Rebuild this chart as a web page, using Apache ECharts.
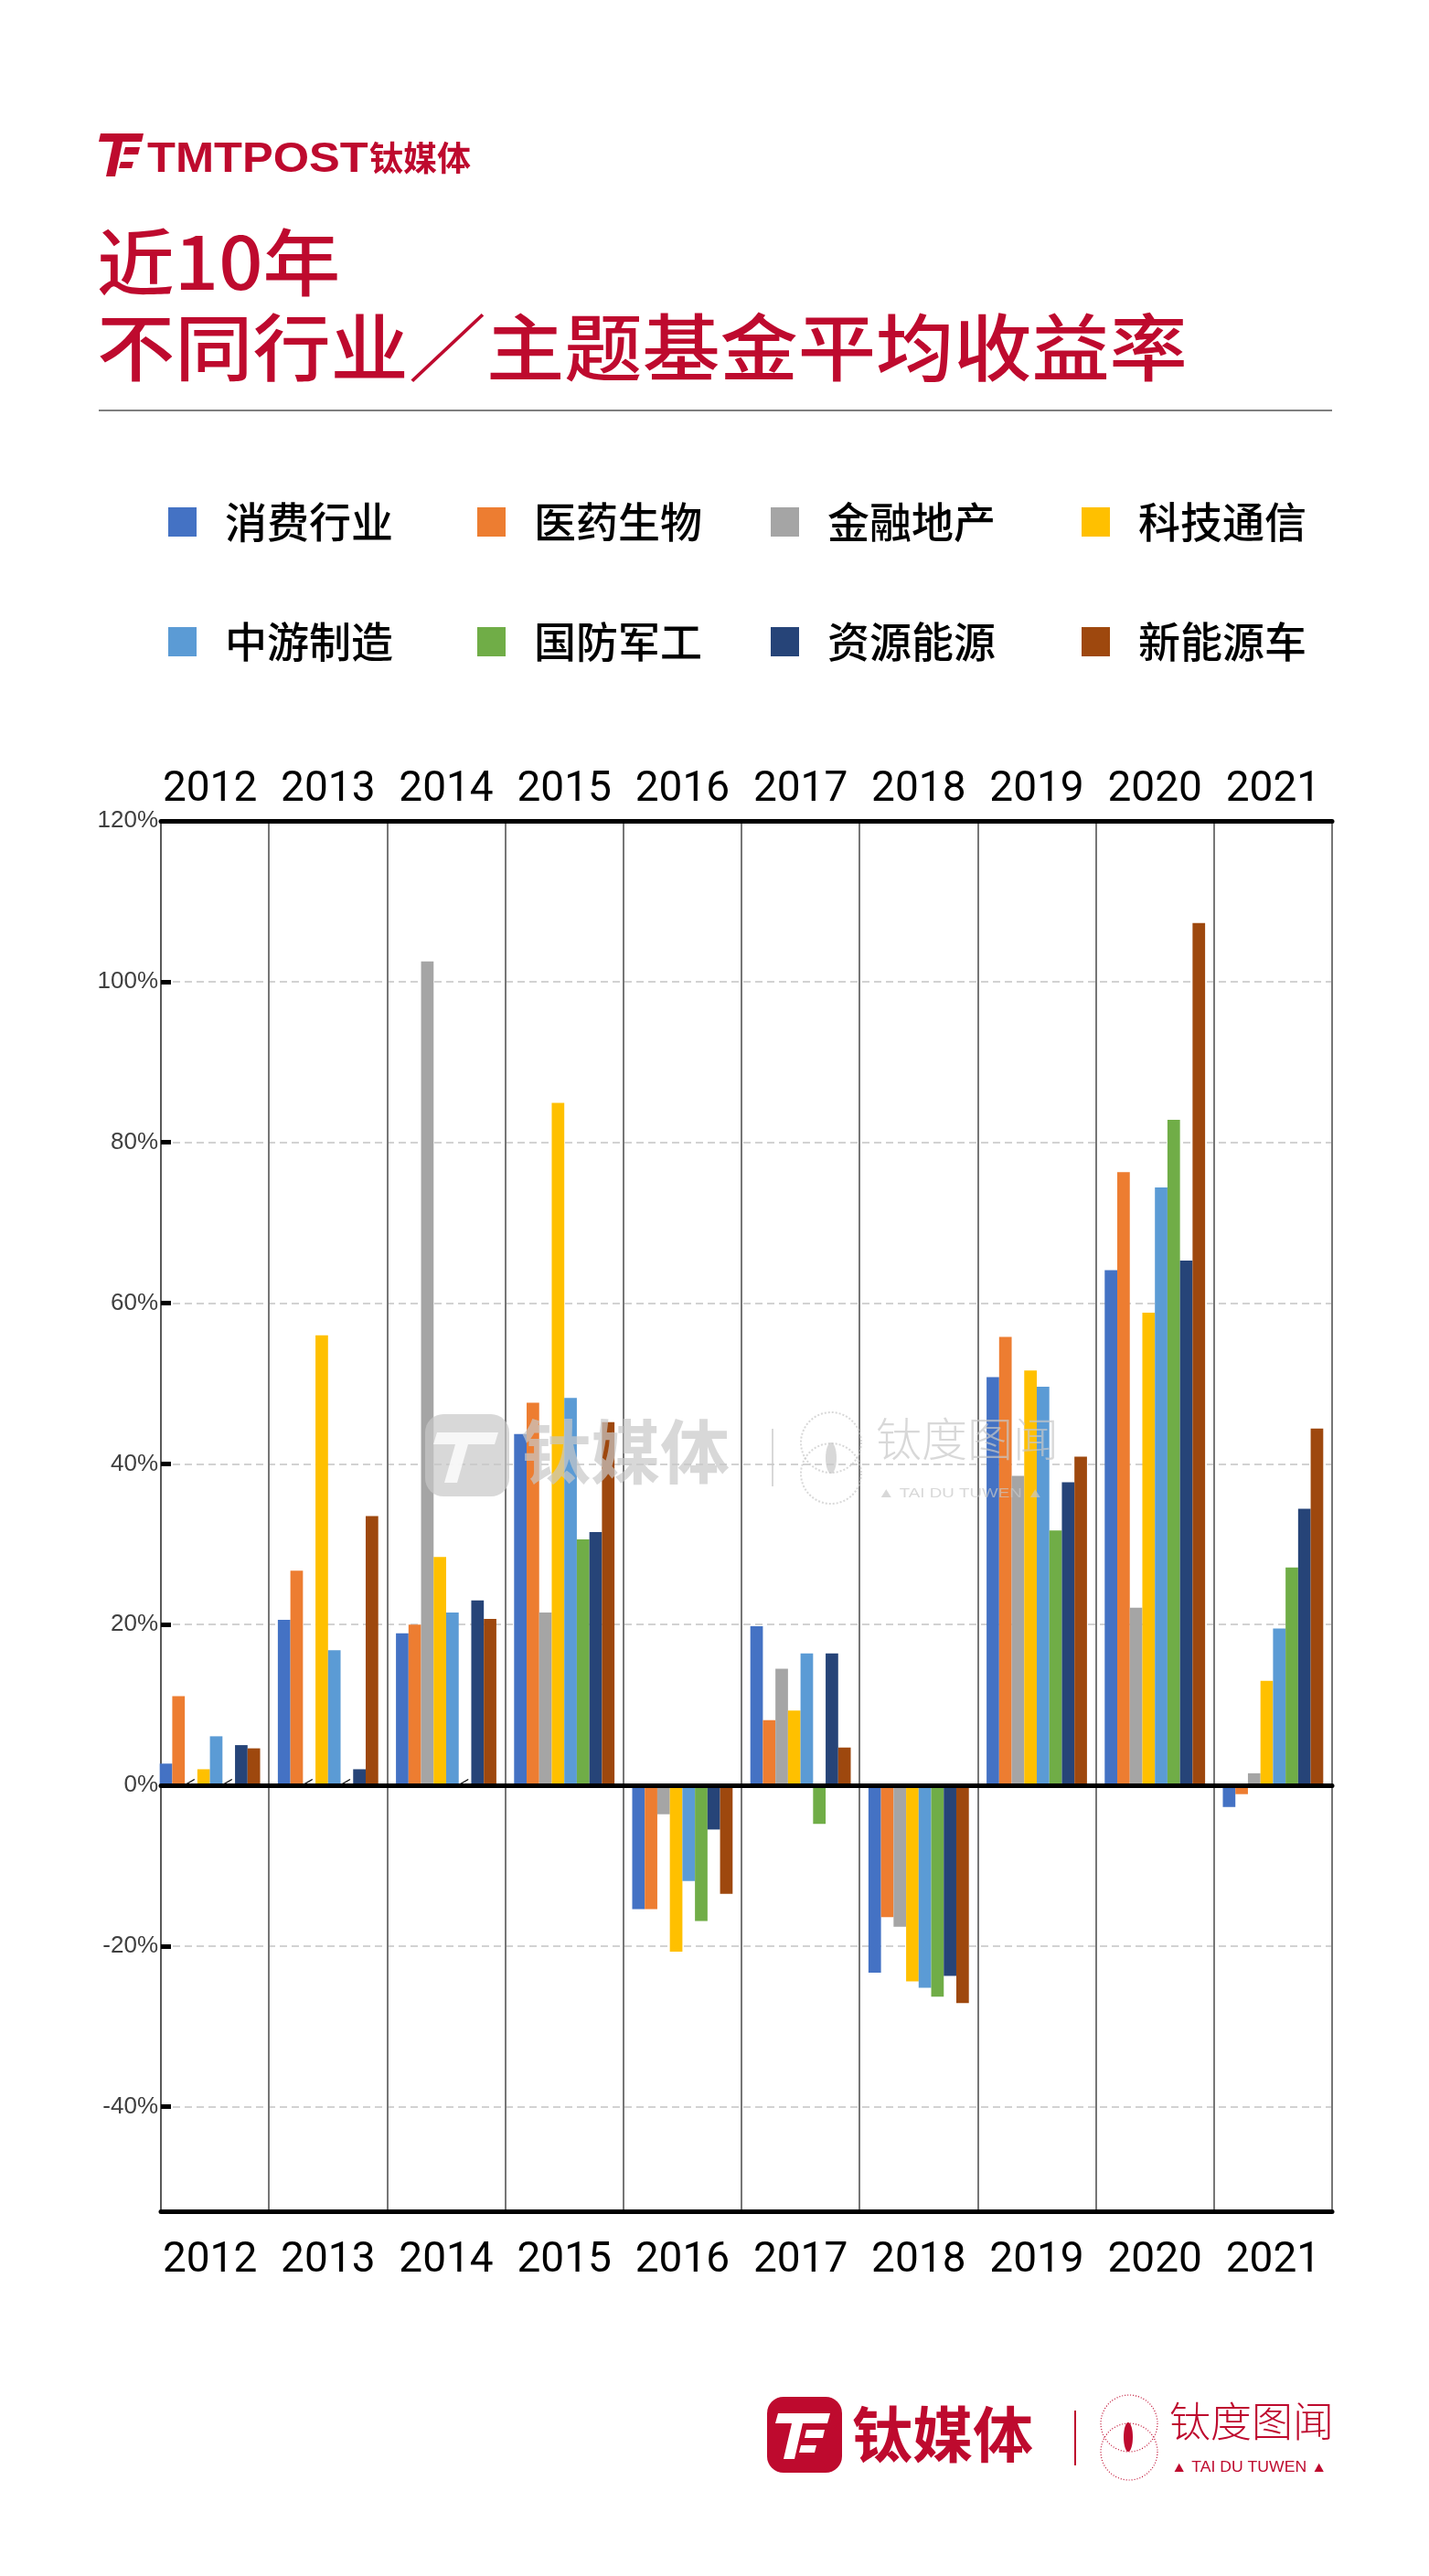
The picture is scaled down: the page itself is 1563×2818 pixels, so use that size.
<!DOCTYPE html>
<html><head><meta charset="utf-8">
<script src="https://cdn.jsdelivr.net/npm/echarts@6/dist/echarts.min.js"></script>
<style>html,body{margin:0;padding:0;background:#fff}#c{width:1563px;height:2818px}</style>
</head><body><div id="c"></div>
<script>
// ---------- DATA ----------
const years = ['2012','2013','2014','2015','2016','2017','2018','2019','2020','2021'];
const seriesNames = ['消费行业','医药生物','金融地产','科技通信','中游制造','国防军工','资源能源','新能源车'];
const consumer  = [2.7, 20.6, 18.9, 43.7, -15.4, 19.8, -23.3, 50.8, 64.1, -2.7];
const medical   = [11.1, 26.7, 20.0, 47.6, -15.4, 8.1, -16.4, 55.8, 76.3, -1.1];
const finance   = [null, null, 102.5, 21.5, -3.6, 14.5, -17.6, 38.5, 22.1, 1.5];
const tech      = [2.0, 56.0, 28.4, 84.9, -20.7, 9.3, -24.4, 51.6, 58.8, 13.0];
const midstream = [6.1, 16.8, 21.5, 48.2, -11.9, 16.4, -25.2, 49.6, 74.4, 19.5];
const defense   = [null, null, null, 30.6, -16.9, -4.8, -26.3, 31.7, 82.8, 27.1];
const resources = [5.0, 2.0, 23.0, 31.5, -5.5, 16.4, -23.7, 37.7, 65.3, 34.4];
const nev       = [4.6, 33.5, 20.7, 45.2, -13.5, 4.7, -27.1, 40.9, 107.3, 44.4];
const yTickValues = [-40, -20, 0, 20, 40, 60, 80, 100, 120];
const yMin = -53, yMax = 120;

// ---------- STYLE ----------
const colors = ['#4472C4','#ED7D31','#A5A5A5','#FFC000','#5B9BD5','#70AD47','#264478','#9E480E'];
const RED = '#BE0A2E';
const CJK = '"Noto Sans CJK SC"';
const allValues = [consumer, medical, finance, tech, midstream, defense, resources, nev];

function toData(arr) {
  return arr.map(v => v === null ? {
    value: 0,
    label: { show: true, formatter: '—', position: 'inside', offset: [0, -4], rotate: 30,
             fontSize: 13, fontWeight: 'bold', color: '#000' }
  } : v);
}

const series = seriesNames.map((name, i) => ({
  name, type: 'bar', xAxisIndex: 0, yAxisIndex: 0,
  data: toData(allValues[i]),
  itemStyle: { color: colors[i] },
  barGap: '0%', barCategoryGap: '15%'
}));

const legendPos = [[179,543],[517,543],[838,543],[1178,543],[179,674],[517,674],[838,674],[1178,674]];
const legends = seriesNames.map((name, i) => ({
  data: [name], left: legendPos[i][0], top: legendPos[i][1],
  icon: 'rect', itemWidth: 31, itemHeight: 32, selectedMode: false,
  textStyle: { fontFamily: CJK, fontSize: 46, fontWeight: 500, color: '#000', padding: [0,0,0,26] }
}));

const yearLabel = { fontFamily: 'Roboto, sans-serif', fontSize: 46, color: '#000', interval: 0 };

const wm = 'rgba(200,200,200,0.7)';
const graphic = [
  // header logo
  { type: 'polygon', shape: { points: [[110,146],[157,146],[155,155],[108,155]] }, style: { fill: RED } },
  { type: 'polygon', shape: { points: [[124,155],[134,155],[126,193],[116,193]] }, style: { fill: RED } },
  { type: 'polygon', shape: { points: [[137,161],[153,161],[151,169],[135,169]] }, style: { fill: RED } },
  { type: 'polygon', shape: { points: [[132,177],[146,177],[144,184],[130,184]] }, style: { fill: RED } },
  { type: 'text', left: 161, top: 152, scaleX: 1.1, style: { text: 'TMTPOST', font: 'bold 46px "Liberation Sans", sans-serif', fill: RED } },
  { type: 'text', left: 404, top: 154, style: { text: '钛媒体', font: 'bold 37px ' + CJK, fill: RED } },
  // title
  { type: 'text', left: 106, top: 247, scaleX: 1.06, style: { text: '近10年', font: '500 80px ' + CJK, fill: RED } },
  { type: 'text', left: 106, top: 340, scaleX: 1.065, style: { text: '不同行业／主题基金平均收益率', font: '500 80px ' + CJK, fill: RED } },
  { type: 'line', shape: { x1: 108, y1: 449, x2: 1457, y2: 449 }, style: { stroke: '#555', lineWidth: 1.5 } },
  // watermark
  { type: 'rect', z: 100, shape: { x: 465, y: 1547, width: 92, height: 90, r: 20 }, style: { fill: wm } },
  { type: 'polygon', z: 101, shape: { points: [[478,1567],[545,1567],[541,1580],[474,1580]] }, style: { fill: 'rgba(255,255,255,0.8)' } },
  { type: 'polygon', z: 101, shape: { points: [[498,1580],[512,1580],[500,1622],[486,1622]] }, style: { fill: 'rgba(255,255,255,0.8)' } },
  { type: 'text', z: 100, left: 570, top: 1550, style: { text: '钛媒体', font: 'bold 76px ' + CJK, fill: wm } },
  { type: 'line', z: 100, shape: { x1: 845, y1: 1563, x2: 845, y2: 1626 }, style: { stroke: wm, lineWidth: 2 } },
  { type: 'circle', z: 100, shape: { cx: 909, cy: 1578, r: 33 }, style: { fill: 'none', stroke: wm, lineWidth: 2, lineDash: [2,2] } },
  { type: 'circle', z: 100, shape: { cx: 909, cy: 1612, r: 33 }, style: { fill: 'none', stroke: wm, lineWidth: 2, lineDash: [2,2] } },
  { type: 'ellipse', z: 100, shape: { cx: 909, cy: 1595, rx: 6, ry: 17 }, style: { fill: wm } },
  { type: 'text', z: 100, left: 958, top: 1549, style: { text: '钛度图闻', font: '300 50px ' + CJK, fill: wm } },
  { type: 'text', z: 100, left: 960, top: 1626, scaleX: 1.25, style: { text: '▲ TAI DU TUWEN ▲', font: '15px "Liberation Sans", sans-serif', fill: wm } },
  // footer logo
  { type: 'rect', shape: { x: 839, y: 2622, width: 82, height: 83, r: 18 }, style: { fill: RED } },
  { type: 'polygon', shape: { points: [[851,2640],[908,2640],[905,2651],[848,2651]] }, style: { fill: '#fff' } },
  { type: 'polygon', shape: { points: [[866,2651],[878,2651],[869,2690],[857,2690]] }, style: { fill: '#fff' } },
  { type: 'polygon', shape: { points: [[882,2658],[902,2658],[900,2667],[880,2667]] }, style: { fill: '#fff' } },
  { type: 'polygon', shape: { points: [[876,2675],[893,2675],[891,2683],[874,2683]] }, style: { fill: '#fff' } },
  { type: 'text', left: 932, top: 2630, style: { text: '钛媒体', font: 'bold 66px ' + CJK, fill: RED } },
  { type: 'line', shape: { x1: 1176, y1: 2637, x2: 1176, y2: 2697 }, style: { stroke: RED, lineWidth: 2 } },
  { type: 'circle', shape: { cx: 1235, cy: 2651, r: 31 }, style: { fill: 'none', stroke: RED, lineWidth: 1.2, lineDash: [1,2] } },
  { type: 'circle', shape: { cx: 1235, cy: 2682, r: 31 }, style: { fill: 'none', stroke: RED, lineWidth: 1.2, lineDash: [1,2] } },
  { type: 'ellipse', shape: { cx: 1234, cy: 2666, rx: 5, ry: 16 }, style: { fill: RED } },
  { type: 'text', left: 1279, top: 2626, style: { text: '钛度图闻', font: '300 45px ' + CJK, fill: RED } },
  { type: 'text', left: 1281, top: 2692, scaleX: 1.1, style: { text: '▲ TAI DU TUWEN ▲', font: '16px "Liberation Sans", sans-serif', fill: RED } }
];

const option = {
  backgroundColor: '#fff',
  animation: false,
  color: colors,
  legend: legends,
  graphic,
  grid: [
    { left: 165, right: 106, top: 898, bottom: 399 },
    { left: 176, right: 106, top: 898, bottom: 399 },
    { left: 176, right: 106, top: 898, bottom: 399 }
  ],
  xAxis: [
    { gridIndex: 0, type: 'category', data: years, position: 'bottom',
      axisLine: { show: false }, axisTick: { show: false },
      axisLabel: Object.assign({ margin: 31 }, yearLabel),
      splitLine: { show: true, interval: 0, showMinLine: false, lineStyle: { color: '#767676', width: 2 } } },
    { gridIndex: 0, type: 'category', data: years, position: 'top',
      axisLine: { show: false }, axisTick: { show: false },
      axisLabel: Object.assign({ margin: 11 }, yearLabel), splitLine: { show: false } },
    { gridIndex: 1, type: 'category', data: years, position: 'bottom', z: 5,
      axisLine: { show: true, onZero: false, lineStyle: { color: '#000', width: 5 } },
      axisTick: { show: false }, axisLabel: { show: false }, splitLine: { show: false } },
    { gridIndex: 1, type: 'category', data: years, position: 'top', z: 5,
      axisLine: { show: true, onZero: false, lineStyle: { color: '#000', width: 5 } },
      axisTick: { show: false }, axisLabel: { show: false }, splitLine: { show: false } },
    { gridIndex: 2, type: 'category', data: years, position: 'bottom', z: 5,
      axisLine: { show: true, onZero: true, lineStyle: { color: '#000', width: 5 } },
      axisTick: { show: false }, axisLabel: { show: false }, splitLine: { show: false } }
  ],
  yAxis: [
    { gridIndex: 0, type: 'value', min: yMin, max: yMax, show: false },
    { gridIndex: 1, type: 'value', min: yMin, max: yMax,
      axisLine: { show: true, lineStyle: { color: '#595959', width: 2 } },
      axisTick: { show: true, inside: true, length: 11, customValues: yTickValues, lineStyle: { color: '#000', width: 5 } },
      axisLabel: { customValues: yTickValues, formatter: '{value}%', fontSize: 26, color: '#404040',
                   fontFamily: '"Liberation Sans", sans-serif', margin: 3 },
      splitLine: { show: true, lineStyle: { color: '#c4c4c4', width: 1.5, type: [8, 5] } } },
    { gridIndex: 2, type: 'value', min: yMin, max: yMax, show: false }
  ],
  series
};

const chart = echarts.init(document.getElementById('c'), null, { renderer: 'canvas' });
chart.setOption(option);
</script>
</body></html>
